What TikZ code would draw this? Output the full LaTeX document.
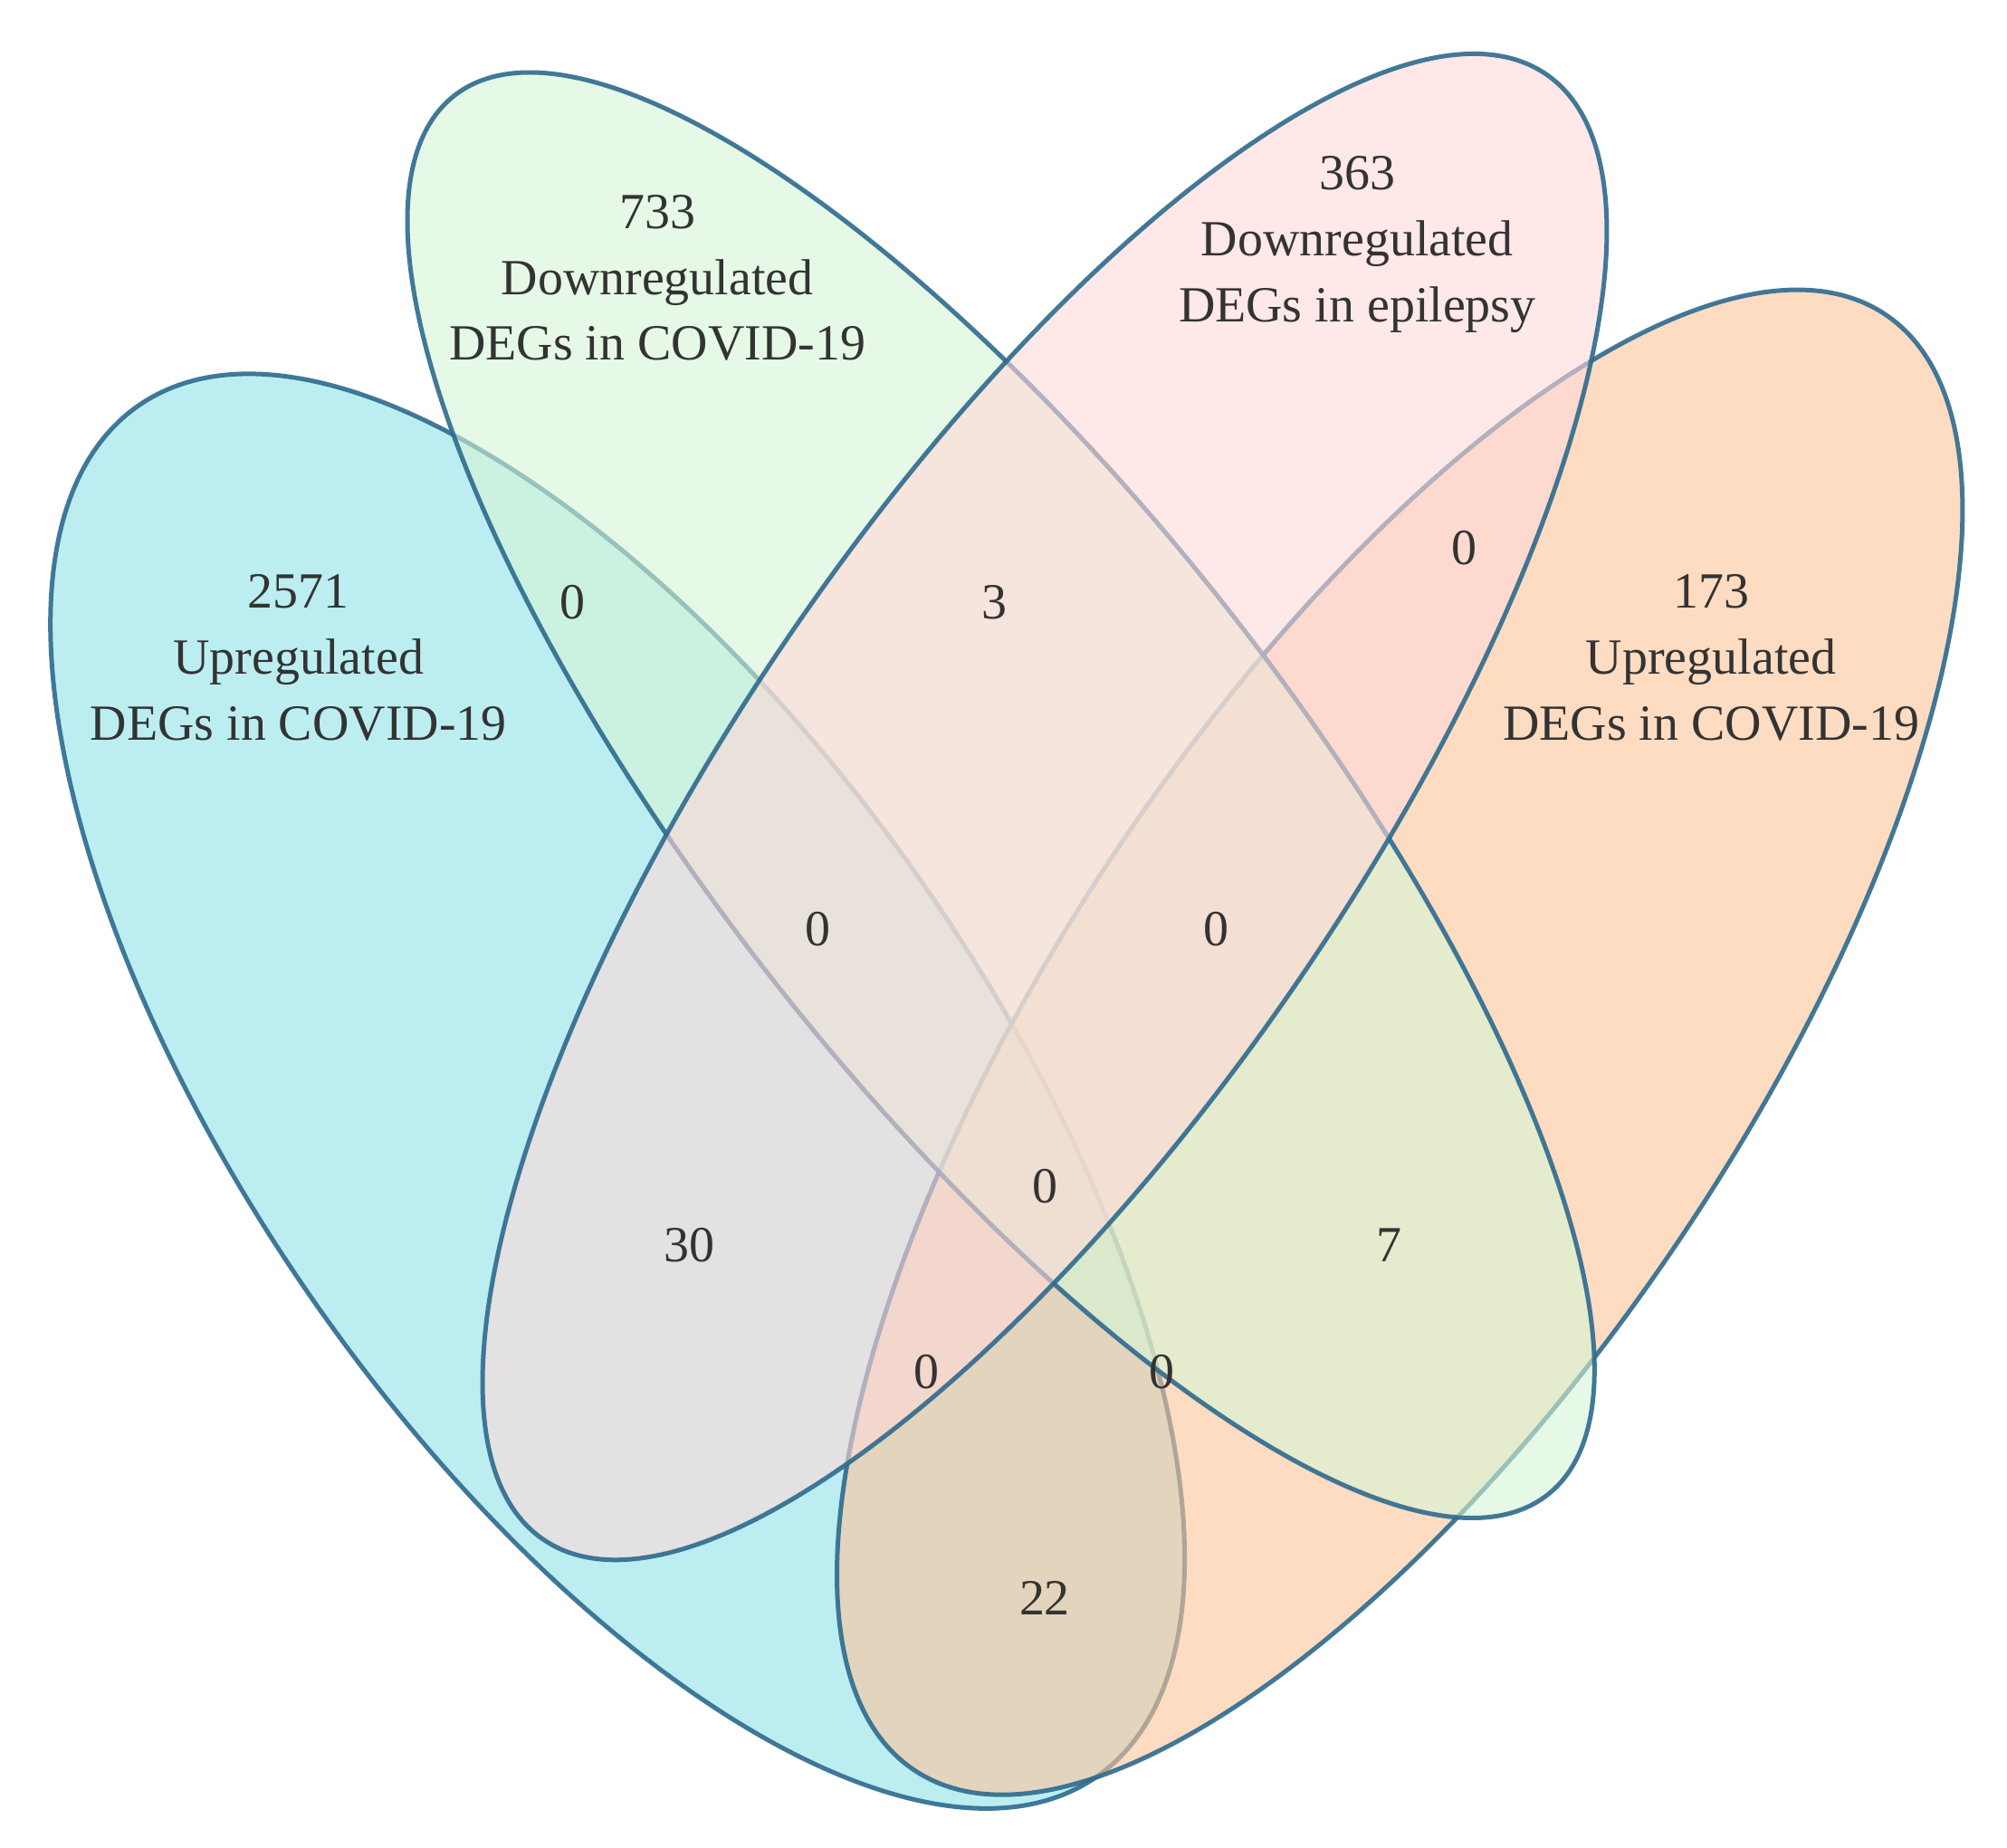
\documentclass[tikz,border=0pt]{standalone}
\usepackage{fontspec}
\setmainfont{Liberation Serif}
\begin{document}
\begin{tikzpicture}[x=0.05cm,y=0.05cm,
  lab/.style={font=\fontsize{56}{73}\selectfont, align=center, text=black!80}]
\useasboundingbox (0,0) rectangle (1560,1436);
\definecolor{ec}{HTML}{2E6A8E}
\definecolor{cy}{HTML}{8FE3E8}
\definecolor{gr}{HTML}{D5F5D5}
\definecolor{pk}{HTML}{FFD8D8}
\definecolor{og}{HTML}{FCC49A}
\tikzset{set/.style={draw=ec, line width=5pt, draw opacity=0.9, fill opacity=0.6}}
\coordinate (c1) at (480,588);
\coordinate (c2) at (778,818);
\coordinate (c3) at (812,809);
\coordinate (c4) at (1088,626);
\draw[set, fill=cy, rotate around={-55:(c1)}] (c1) ellipse (650 and 287);
\draw[set, fill=og, rotate around={56.3:(c4)}] (c4) ellipse (680 and 266);
\draw[set, fill=gr, rotate around={-52:(c2)}] (c2) ellipse (690 and 228);
\draw[set, fill=pk, rotate around={55.6:(c3)}] (c3) ellipse (690 and 239);
\node[lab] (t1) at (232,925) {2571\\Upregulated\\DEGs in COVID-19};
\node[lab] (t2) at (511,1220) {733\\Downregulated\\DEGs in COVID-19};
\node[lab] (t3) at (1055,1246) {363\\Downregulated\\DEGs in epilepsy};
\node[lab] (t4) at (1330,925) {173\\Upregulated\\DEGs in COVID-19};
\node[lab] (n1) at (445,968) {0};
\node[lab] (n2) at (773,968) {3};
\node[lab] (n3) at (1138,1010) {0};
\node[lab] (n4) at (636,714) {0};
\node[lab] (n5) at (945,714) {0};
\node[lab] (n6) at (812,514) {0};
\node[lab] (n7) at (536,468) {30};
\node[lab] (n8) at (1080,468) {7};
\node[lab] (n9) at (720,370) {0};
\node[lab] (n10) at (903,370) {0};
\node[lab] (n11) at (812,194) {22};
\end{tikzpicture}
\end{document}
